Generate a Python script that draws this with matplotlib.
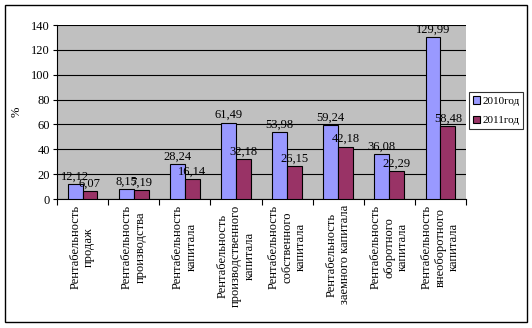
import matplotlib
matplotlib.use("Agg")
import matplotlib.pyplot as plt
import numpy as np
from matplotlib.patches import Rectangle

categories = [
    "Рентабельность\nпродаж",
    "Рентабельность\nпроизводства",
    "Рентабельность\nкапитала",
    "Рентабельность\nпроизводственного\nкапитала",
    "Рентабельность\nсобственного\nкапитала",
    "Рентабельность\nзаемного капитала",
    "Рентабельность\nоборотного\nкапитала",
    "Рентабельность\nвнеоборотного\nкапитала",
]
values_2010 = [12.12, 8.15, 28.24, 61.49, 53.98, 59.24, 36.08, 129.99]
values_2011 = [6.07, 7.19, 16.14, 32.18, 26.15, 42.18, 22.29, 58.48]
series_names = ["2010год", "2011год"]
y_ticks = [0, 20, 40, 60, 80, 100, 120, 140]

plt.rcParams['font.family'] = ['Liberation Serif', 'DejaVu Serif']

fig = plt.figure(figsize=(5.32, 3.28), dpi=100)
fig.patch.set_facecolor('white')
# outer border
fig.patches.append(Rectangle((5/532, 1-322/328), 522/532, 317/328, transform=fig.transFigure,
                             fill=False, edgecolor='black', linewidth=1.0))

ax = fig.add_axes([57/532, 1-199/328, (466-57)/532, (199-25)/328])
ax.set_facecolor('#C0C0C0')
x = np.arange(len(categories))
w = 0.29
b1 = ax.bar(x - w/2, values_2010, w, color='#9999FF', edgecolor='black', linewidth=0.8,
            label=series_names[0], zorder=3)
b2 = ax.bar(x + w/2, values_2011, w, color='#993366', edgecolor='black', linewidth=0.8,
            label=series_names[1], zorder=3)
for bars in (b1, b2):
    for r in bars:
        h = r.get_height()
        ax.text(r.get_x() + r.get_width()/2, h + 1.2, f"{h:.2f}".replace('.', ','),
                ha='center', va='bottom', fontsize=9, zorder=4)

ax.set_xlim(-0.5, len(categories) - 0.5)
ax.set_ylim(0, 140)
ax.set_yticks(y_ticks)
ax.tick_params(axis='y', labelsize=9, length=3, direction='out', pad=2)
ax.yaxis.grid(True, color='black', linewidth=0.8, zorder=1)
ax.set_axisbelow(True)
ax.set_xticks(np.arange(len(categories) + 1) - 0.5)
ax.set_xticklabels([])
ax.tick_params(axis='x', length=4, direction='out')
for i, c in enumerate(categories):
    ax.text(i, -5, c, rotation=90, ha='center', va='top', multialignment='center',
            fontsize=9, linespacing=1.15, transform=ax.transData)
for s in ['top', 'right']:
    ax.spines[s].set_visible(False)
ax.spines['left'].set_color('black')
ax.spines['bottom'].set_color('black')
ax.set_ylabel('%', fontsize=9, labelpad=6)

leg = ax.legend(loc='upper left', bbox_to_anchor=((469-57)/409, (199-92)/174), fontsize=8,
                frameon=True, fancybox=False, edgecolor='black', handlelength=0.6,
                handleheight=0.7, handletextpad=0.25, borderpad=0.35, labelspacing=0.9,
                borderaxespad=0)
leg.get_frame().set_linewidth(0.8)

fig.savefig('out.png', dpi=100)
